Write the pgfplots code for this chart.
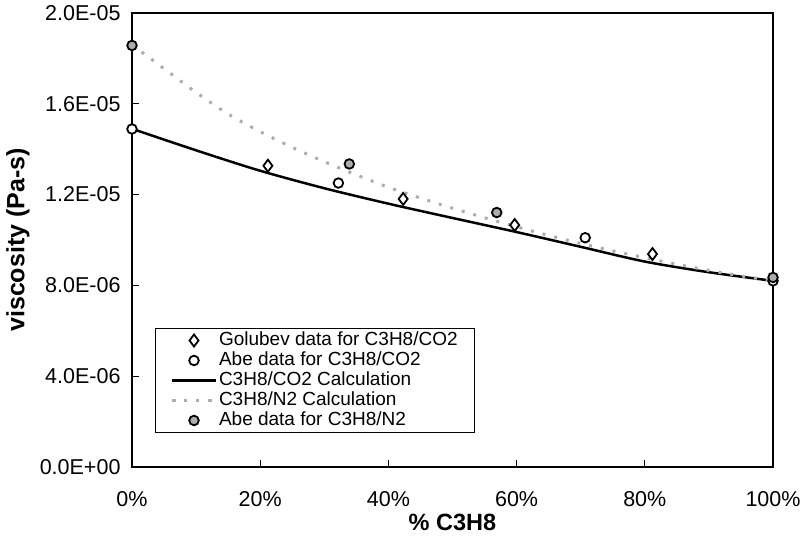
\documentclass[border=0pt]{standalone}
\usepackage{pgfplots}
\pgfplotsset{compat=1.18}
\usepackage{fontspec}
\setmainfont{Liberation Sans}

\pgfplotstableread{
x y
0   1.490e-5
10  1.395e-5
20  1.305e-5
30  1.228e-5
40  1.160e-5
50  1.097e-5
60  1.035e-5
70  0.970e-5
80  0.905e-5
90  0.858e-5
100 0.820e-5
}\coCalc

\pgfplotstableread{
x y
0   1.860e-5
5   1.755e-5
10  1.650e-5
15  1.555e-5
20  1.477e-5
25  1.408e-5
30  1.345e-5
35  1.287e-5
40  1.232e-5
45  1.185e-5
50  1.140e-5
55  1.098e-5
60  1.058e-5
65  1.020e-5
70  0.985e-5
75  0.952e-5
80  0.922e-5
85  0.893e-5
90  0.866e-5
95  0.842e-5
100 0.820e-5
}\nCalc

\begin{document}
\begin{tikzpicture}
\begin{axis}[
  at={(0pt,0pt)}, anchor=south west,
  scale only axis, width=641pt, height=454pt,
  xmin=0, xmax=100, ymin=0, ymax=2e-5,
  clip=false,
  axis line style={line width=1.5pt},
  tick align=inside,
  major tick length=7pt,
  tick style={line width=1pt, black},
  xtick={0,20,40,60,80,100},
  xticklabels={0\%,20\%,40\%,60\%,80\%,100\%},
  ytick={0,4e-6,8e-6,1.2e-5,1.6e-5,2e-5},
  yticklabels={0.0E+00,4.0E-06,8.0E-06,1.2E-05,1.6E-05,2.0E-05},
  scaled y ticks=false,
  xtick pos=bottom, ytick pos=left,
  tick label style={font=\fontsize{21.5}{25}\selectfont},
  xticklabel style={yshift=-21pt},
  yticklabel style={xshift=-8pt},
  xlabel={\% C3H8},
  ylabel={viscosity (Pa-s)},
  xlabel style={font=\fontsize{23.5}{27}\selectfont\bfseries, at={(axis description cs:0.5,-0.121)}, anchor=center},
  ylabel style={font=\fontsize{25}{29}\selectfont\bfseries, at={(axis description cs:-0.178,0.5)}, anchor=center},
  legend cell align=left,
  legend style={at={(axis description cs:0.0359,0.0749)}, anchor=south west,
    font=\fontsize{19}{21}\selectfont, draw=black, line width=1pt,
    inner xsep=15pt, inner ysep=2pt, row sep=0pt,
    nodes={inner sep=1.5pt, text height=14pt, text depth=3pt}},
  legend image code/.code={\draw[mark repeat=2,mark phase=2,#1] plot coordinates {(0pt,0pt) (22pt,0pt) (44pt,0pt)};},
]
\addplot[only marks, mark=diamond, mark size=6pt, mark options={line width=1.8pt, draw=black, fill=white}]
  coordinates {(21.2,1.327e-5) (42.3,1.181e-5) (59.7,1.066e-5) (81.2,0.938e-5)};
\addlegendentry{Golubev data for C3H8/CO2}
\addplot[only marks, mark=*, mark size=4.8pt, mark options={line width=1.8pt, draw=black, fill=white}]
  coordinates {(0,1.489e-5) (32.2,1.251e-5) (70.7,1.010e-5) (100,0.820e-5)};
\addlegendentry{Abe data for C3H8/CO2}
\addplot[black, line width=2.5pt, smooth, no marks] table {\coCalc};
\addlegendentry{C3H8/CO2 Calculation}
\addplot[gray!65, line width=3pt, smooth, no marks, dash pattern=on 3pt off 9pt] table {\nCalc};
\addlegendentry{C3H8/N2 Calculation}
\addplot[only marks, mark=*, mark size=4.8pt, mark options={line width=1.8pt, draw=black, fill=gray!65}]
  coordinates {(0,1.857e-5) (33.9,1.335e-5) (56.9,1.121e-5) (100,0.835e-5)};
\addlegendentry{Abe data for C3H8/N2}
\end{axis}
\pgfresetboundingbox
\path (-132pt,-70pt) rectangle (673pt,467pt);
\end{tikzpicture}
\end{document}
